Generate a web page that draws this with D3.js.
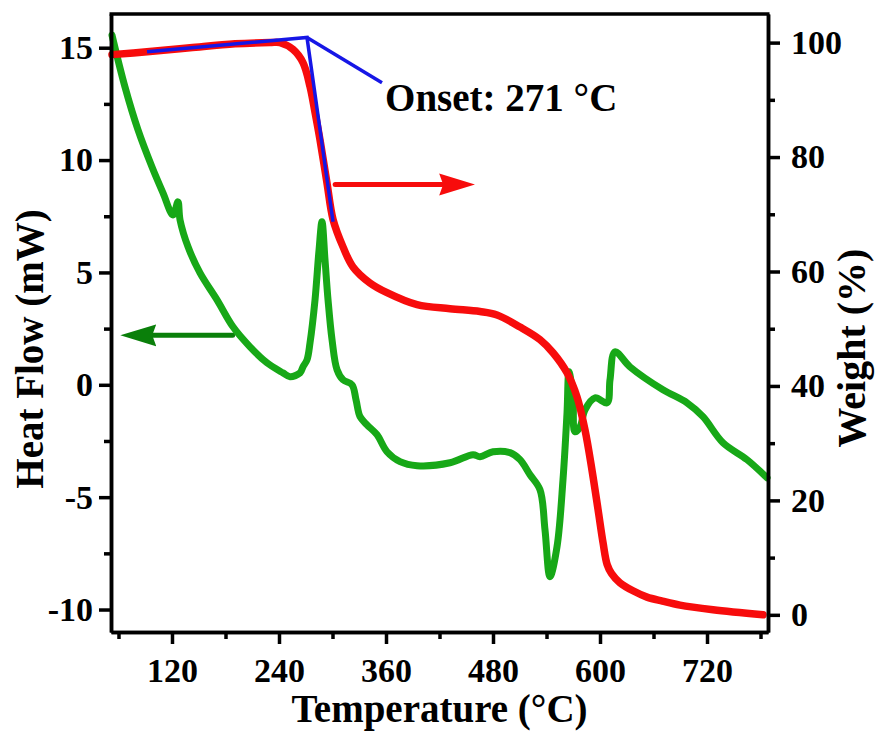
<!DOCTYPE html>
<html>
<head>
<meta charset="utf-8">
<script src="https://cdn.jsdelivr.net/npm/d3@7"></script>
<style>
body { margin: 0; background: #ffffff; }
svg text { font-family: "Liberation Serif", "Times New Roman", serif; font-weight: bold; fill: #000; }
</style>
</head>
<body>
<div id="chart"></div>
<script>
// heat flow (DSC), left axis
var hf_temp  = [52.7, 67.3, 81.9, 97.6, 109.9, 121.1, 126.7, 129, 138, 151.4, 170.5, 188.4, 207.5, 226.5, 244.5, 252.3,
                263.6, 266.9, 271.4, 274.8, 280.4, 284.9, 288.2, 291.6, 295, 299.5, 305.1, 311.8, 321.9, 326.4, 330.9,
                338.7, 349.9, 361.1, 375.7, 394.8, 431.8, 457.6, 465.4, 480, 499.1, 510.3, 521.5, 532.7, 538.3, 543.9,
                551.8, 558.5, 563, 565.2, 569.7, 571.9, 577.6, 583.2, 594.4, 607.9, 611.2, 616.8, 633.6, 670.6, 697.6,
                715.5, 737.9, 764.8, 787.3];
var hf_value = [15.56, 13.25, 11.34, 9.69, 8.54, 7.56, 8.14, 7.34, 6.14, 4.98, 3.78, 2.58, 1.69, 0.98, 0.53, 0.36,
                0.53, 0.8, 1.11, 1.87, 3.78, 6.0, 7.25, 5.56, 3.78, 2.0, 0.67, 0.22, 0, -0.67, -1.42,
                -1.78, -2.22, -2.98, -3.42, -3.6, -3.47, -3.11, -3.2, -2.98, -3.02, -3.33, -4.0, -4.67, -6.45, -8.54,
                -7.2, -4.22, -1.25, 0.58, -0.53, -2.09, -1.87, -1.11, -0.58, -0.8, 0.22, 1.47, 0.8, -0.22, -0.8,
                -1.42, -2.58, -3.33, -4.14];

// weight (TGA), right axis
var wt_temp  = [52.7, 92, 140.2, 190.7, 229.9, 241.1, 255.7, 266.9, 274.8, 280.4, 286, 293.8, 300.6, 311.8, 323, 342,
                361.1, 394.8, 431.8, 465.4, 484.5, 510.3, 532.7, 547.3, 563, 574.2, 583.2, 591, 597.8, 603.4, 608,
                613, 622.4, 637, 652.7, 670, 689.7, 726.7, 782.8];
var wt_value = [97.9, 98.4, 99.1, 99.8, 100, 100, 98.8, 96.5, 92.3, 87.8, 83.0, 75.5, 69.1, 64.3, 60.8, 58.0,
                56.3, 54.2, 53.5, 53.0, 52.4, 50.3, 48.1, 45.8, 42.3, 38.1, 32.3, 25.3, 18.4, 12.6, 8.8,
                7.2, 5.6, 4.2, 3.1, 2.4, 1.7, 0.9, 0];

// onset construction (tangent lines + leader to label)
var onset_temp   = [92, 271.4, 300.6];
var onset_weight = [98.4, 100.9, 68.7];
var leader_temp   = [271.4, 355.5];
var leader_weight = [100.9, 93.0];
var onset_label = "Onset: 271 \u00B0C";
var onset_label_at = [359, 88];

// arrows pointing at each curve's axis
var hf_arrow_temp = [188, 62], hf_arrow_value = 2.2;
var wt_arrow_temp = [303, 460], wt_arrow_value = 75.2;

var x_ticks  = [120, 240, 360, 480, 600, 720];
var x_minor  = [60, 180, 300, 420, 540, 660, 780];
var hf_ticks = [-10, -5, 0, 5, 10, 15];
var hf_minor = [-7.5, -2.5, 2.5, 7.5, 12.5];
var wt_ticks = [0, 20, 40, 60, 80, 100];
var wt_minor = [10, 30, 50, 70, 90];

var green = "#17a817", dark_green = "#0a7f0a", red = "#f70c0c", blue = "#1616e6";

width = 879, height = 736;
var margin = {left: 111, right: 111, top: 14, bottom: 104};

var svg = d3.select("#chart")
    .append("svg")
    .attr("width", width)
    .attr("height", height);

var x = d3.scaleLinear().domain([51.6, 788.4]).range([margin.left, 768]);
var yHF = d3.scaleLinear().domain([-11, 16.5]).range([632, margin.top]);
var yWT = d3.scaleLinear().domain([-3, 105]).range([632, margin.top]);

// marker heads (Origin style)
var defs = svg.append("defs");
[["headGreen", dark_green], ["headRed", red]].forEach(function(m) {
    defs.append("marker")
        .attr("id", m[0])
        .attr("markerUnits", "userSpaceOnUse")
        .attr("viewBox", "0 0 36 24")
        .attr("markerWidth", 36).attr("markerHeight", 24)
        .attr("refX", 3).attr("refY", 12)
        .attr("orient", "auto")
        .append("path")
        .attr("d", "M0,1 L36,12 L0,23 L4,12 Z")
        .attr("fill", m[1]);
});

function arrow(t, yv, yScale, col, id) {
    var x0 = x(t[0]), x1 = x(t[1]), yy = yScale(yv);
    var dir = x1 > x0 ? 1 : -1;
    svg.append("line")
        .attr("x1", x0).attr("y1", yy)
        .attr("x2", x1 - dir * 33).attr("y2", yy)
        .attr("stroke", col)
        .attr("stroke-width", 5)
        .attr("stroke-linecap", "round")
        .attr("marker-end", "url(#" + id + ")");
}
arrow(hf_arrow_temp, hf_arrow_value, yHF, dark_green, "headGreen");
arrow(wt_arrow_temp, wt_arrow_value, yWT, red, "headRed");

// curves
var hfLine = d3.line()
    .x(function(d, i) { return x(hf_temp[i]); })
    .y(function(d) { return yHF(d); })
    .curve(d3.curveCatmullRom.alpha(0.5));

svg.append("path")
    .datum(hf_value)
    .attr("d", hfLine)
    .attr("fill", "none")
    .attr("stroke", green)
    .attr("stroke-width", 7)
    .attr("stroke-linejoin", "round")
    .attr("stroke-linecap", "round");

var wtLine = d3.line()
    .x(function(d, i) { return x(wt_temp[i]); })
    .y(function(d) { return yWT(d); })
    .curve(d3.curveCatmullRom.alpha(0.5));

svg.append("path")
    .datum(wt_value)
    .attr("d", wtLine)
    .attr("fill", "none")
    .attr("stroke", red)
    .attr("stroke-width", 7.5)
    .attr("stroke-linejoin", "round")
    .attr("stroke-linecap", "round");

// onset tangents
function blueLine(ts, ws) {
    var pts = ts.map(function(t, i) { return [x(t), yWT(ws[i])]; });
    svg.append("path")
        .attr("d", d3.line()(pts))
        .attr("fill", "none")
        .attr("stroke", blue)
        .attr("stroke-width", 3.5);
}
blueLine(onset_temp, onset_weight);
blueLine(leader_temp, leader_weight);

svg.append("text")
    .attr("x", x(onset_label_at[0]))
    .attr("y", yWT(onset_label_at[1]))
    .attr("font-size", "39px")
    .text(onset_label);

// axes
function styleAxis(g) {
    g.selectAll("path.domain").attr("stroke", "#000").attr("stroke-width", 3.5);
    g.selectAll(".tick line").attr("stroke", "#000").attr("stroke-width", 3.5);
    g.selectAll(".tick text")
        .style("font-family", "'Liberation Serif', 'Times New Roman', serif")
        .style("font-weight", "bold")
        .style("font-size", "34px")
        .attr("fill", "#000");
}
var plain = function(d) { return String(d); };

svg.append("g")
    .attr("transform", "translate(0,632)")
    .call(d3.axisBottom(x).tickValues(x_minor).tickSize(7).tickSizeOuter(0).tickFormat(""))
    .call(styleAxis);
svg.append("g")
    .attr("transform", "translate(0,632)")
    .call(d3.axisBottom(x).tickValues(x_ticks).tickSize(12).tickSizeOuter(0).tickPadding(14).tickFormat(plain))
    .call(styleAxis);

svg.append("g")
    .attr("transform", "translate(" + margin.left + ",0)")
    .call(d3.axisLeft(yHF).tickValues(hf_minor).tickSize(7).tickSizeOuter(0).tickFormat(""))
    .call(styleAxis);
svg.append("g")
    .attr("transform", "translate(" + margin.left + ",0)")
    .call(d3.axisLeft(yHF).tickValues(hf_ticks).tickSize(12).tickSizeOuter(0).tickPadding(6).tickFormat(plain))
    .call(styleAxis);

svg.append("g")
    .attr("transform", "translate(768,0)")
    .call(d3.axisRight(yWT).tickValues(wt_minor).tickSize(7).tickSizeOuter(0).tickFormat(""))
    .call(styleAxis);
svg.append("g")
    .attr("transform", "translate(768,0)")
    .call(d3.axisRight(yWT).tickValues(wt_ticks).tickSize(12).tickSizeOuter(0).tickPadding(11).tickFormat(plain))
    .call(styleAxis);

// top border
svg.append("line")
    .attr("x1", margin.left - 1.5).attr("x2", 768 + 1.5)
    .attr("y1", margin.top).attr("y2", margin.top)
    .attr("stroke", "#000")
    .attr("stroke-width", 3.5);

// axis titles
svg.append("text")
    .attr("x", (margin.left + 768) / 2)
    .attr("y", 722)
    .attr("text-anchor", "middle")
    .attr("font-size", "39px")
    .text("Temperature (\u00B0C)");

svg.append("text")
    .attr("transform", "translate(43,349) rotate(-90)")
    .attr("text-anchor", "middle")
    .attr("font-size", "39px")
    .text("Heat Flow (mW)");

svg.append("text")
    .attr("transform", "translate(865,348) rotate(-90)")
    .attr("text-anchor", "middle")
    .attr("font-size", "40px")
    .text("Weight (%)");
</script>
</body>
</html>
